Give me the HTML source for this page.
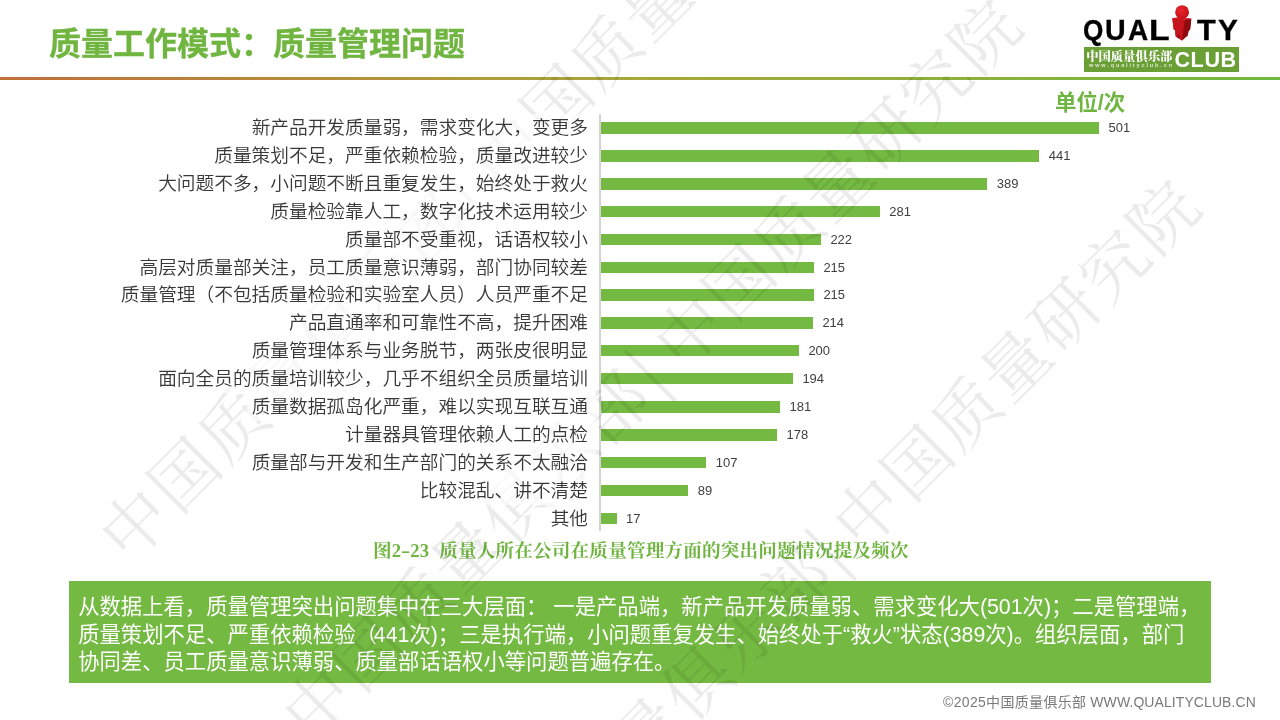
<!DOCTYPE html>
<html lang="zh-CN">
<head>
<meta charset="utf-8">
<title>质量工作模式：质量管理问题</title>
<style>
html,body{margin:0;padding:0;background:#fff;}
body{width:1280px;height:720px;position:relative;overflow:hidden;font-family:"Liberation Sans","Noto Sans CJK SC",sans-serif;}
.abs{position:absolute;}
#title{position:absolute;left:49px;top:20.4px;font-size:32px;line-height:48px;font-weight:700;color:#6fb540;white-space:nowrap;letter-spacing:0;-webkit-text-stroke:0.3px #6fb540;}
#rule{position:absolute;left:0;top:77px;width:1280px;height:3px;background:linear-gradient(to right,#c16e3a 0%,#b48e3b 25%,#a7a83d 50%,#9daa3c 60%,#84b43c 83%,#6fb83f 100%);}
#logo .q{position:absolute;top:12px;font-family:"Liberation Sans",sans-serif;font-weight:700;font-size:30.4px;line-height:36px;color:#000;-webkit-text-stroke:0.35px #000;transform-origin:0 0;transform:scaleX(0.8);}
#lgbox{position:absolute;left:1084px;top:47px;width:155px;height:25px;background:#6a9f35;overflow:hidden;}
#lgcn{position:absolute;left:2.2px;top:1.6px;font-family:"Liberation Serif","Noto Serif CJK SC",serif;font-weight:900;font-size:12.3px;line-height:17px;color:#fff;white-space:nowrap;}
#lgurl{position:absolute;left:4.6px;top:14.2px;font-family:"Liberation Sans",sans-serif;font-weight:700;font-size:11px;line-height:14px;letter-spacing:3.75px;color:#dfeacf;white-space:nowrap;transform-origin:0 0;transform:scale(0.5);}
#lgclub{position:absolute;left:90.4px;top:1.2px;font-family:"Liberation Sans",sans-serif;font-weight:700;font-size:21.6px;line-height:24px;color:#fff;white-space:nowrap;letter-spacing:0.6px;}
#unit{position:absolute;left:1055px;top:88.3px;font-size:21.4px;line-height:30px;font-weight:700;color:#6fb540;white-space:nowrap;}
#axis{position:absolute;left:599px;top:114px;width:2px;height:417px;background:#d4d4d4;}
.lab{position:absolute;right:684px;padding:0 8px 0 5px;z-index:3;background:rgba(255,255,255,0.62);height:28px;line-height:28px;font-size:18.7px;font-weight:350;color:#383838;white-space:nowrap;text-align:right;}
.bar{position:absolute;left:601px;height:12px;background:#74ba42;}
.val{position:absolute;height:16px;line-height:16px;font-size:13px;color:#404040;font-family:"Liberation Sans",sans-serif;}
.hy{display:inline-block;width:9.33px;text-align:center;transform:scaleX(1.5);}
.sp{display:inline-block;width:10.2px;}
.cj{letter-spacing:0.12px;}
#cap{position:absolute;left:373px;top:537px;font-size:18.67px;line-height:28px;font-weight:700;color:#6fb540;white-space:nowrap;font-family:"Liberation Serif","Noto Serif CJK SC",serif;}
#box{position:absolute;left:69px;top:581px;width:1142px;height:102px;background:#74ba42;}
#box p{margin:0;position:absolute;left:9.2px;top:13px;font-size:21.33px;line-height:27.5px;color:#fff;white-space:nowrap;font-weight:400;}
#foot{position:absolute;left:943px;top:692px;font-size:14px;line-height:20px;color:#7a7a7a;white-space:nowrap;}
#wm{position:absolute;left:0;top:0;width:1280px;height:720px;overflow:hidden;pointer-events:none;z-index:2;}
.wl{position:absolute;width:0;height:0;transform:rotate(-45deg);}
.wl span.t{position:absolute;left:-33.5px;top:-40px;white-space:nowrap;font-family:"Liberation Serif","Noto Serif CJK SC",serif;font-weight:400;font-size:67px;line-height:80px;height:80px;letter-spacing:2.6px;color:rgba(0,0,0,0.08);}
.wl span.s{letter-spacing:0;font-size:78px;line-height:80px;display:inline-block;width:33px;text-align:left;vertical-align:top;position:relative;top:-5px;left:2.3px;}
</style>
</head>
<body>
<div id="title">质量工作模式：质量管理问题</div>
<div id="rule"></div>
<div id="logo">
<span class="q" style="left:1083.4px;transform:scale(0.86,0.98)">Q</span><span class="q" style="left:1104.8px;transform:scale(0.94,0.98)">U</span><span class="q" style="left:1128.2px;transform:scale(0.92,0.98)">A</span><span class="q" style="left:1149.2px;transform:scale(1.11,0.98)">L</span><span class="q" style="left:1196.8px;transform:scale(1.01,0.98)">T</span><span class="q" style="left:1218.2px;transform:scale(0.98,0.98)">Y</span>
<svg class="man" width="30" height="46" viewBox="0 0 30 46" style="position:absolute;left:1167px;top:0">
<defs><radialGradient id="hg" cx="0.4" cy="0.35" r="0.7"><stop offset="0" stop-color="#ea242c"/><stop offset="1" stop-color="#bf1018"/></radialGradient></defs>
<polygon points="5.3,18.3 12,17.3 24.3,18.7 23.1,29.6 21.4,31.2 20.8,35.3 15,40.6 8.7,36.4 8.1,30 6.7,29.4" fill="#a80e15"/>
<polygon points="5.3,18.3 18,20 15,40.6 8.7,36.4 8.1,30 6.7,29.4" fill="#c5141b"/>
<polygon points="18,20 24.3,18.7 23.1,29.6 21.4,31.2 20.8,35.3 15,40.6" fill="#8f0a10"/>
<polygon points="5.3,18.3 12,17.3 24.3,18.7 18,20" fill="#e2222a"/>
<polygon points="10.9,35.2 12.4,34.6 12.7,37.4 11.2,37.9" fill="#8f0a10"/>
<circle cx="15.1" cy="12.2" r="6.9" fill="url(#hg)"/>
</svg>
<div id="lgbox">
<div id="lgcn">中国质量俱乐部</div>
<div id="lgurl">www.qualityclub.cn</div>
<div id="lgclub">CLUB</div>
</div>
</div>
<div id="unit">单位/次</div>
<div id="axis"></div>
<div class="lab" style="top:114.00px">新产品开发质量弱，需求变化大，变更多</div>
<div class="bar" style="top:122px;height:12px;width:498.1px"></div>
<div class="val" style="top:120.00px;left:1108.5px">501</div>
<div class="lab" style="top:142.00px">质量策划不足，严重依赖检验，质量改进较少</div>
<div class="bar" style="top:150px;height:12px;width:438.3px"></div>
<div class="val" style="top:148.00px;left:1048.7px">441</div>
<div class="lab" style="top:170.00px">大问题不多，小问题不断且重复发生，始终处于救火</div>
<div class="bar" style="top:178px;height:12px;width:386.4px"></div>
<div class="val" style="top:176.00px;left:996.8px">389</div>
<div class="lab" style="top:197.50px">质量检验靠人工，数字化技术运用较少</div>
<div class="bar" style="top:206px;height:11px;width:278.8px"></div>
<div class="val" style="top:203.50px;left:889.2px">281</div>
<div class="lab" style="top:225.50px">质量部不受重视，话语权较小</div>
<div class="bar" style="top:234px;height:11px;width:220.0px"></div>
<div class="val" style="top:231.50px;left:830.4px">222</div>
<div class="lab" style="top:253.50px">高层对质量部关注，员工质量意识薄弱，部门协同较差</div>
<div class="bar" style="top:262px;height:11px;width:213.0px"></div>
<div class="val" style="top:259.50px;left:823.4px">215</div>
<div class="lab" style="top:281.00px">质量管理（不包括质量检验和实验室人员）人员严重不足</div>
<div class="bar" style="top:289px;height:12px;width:213.0px"></div>
<div class="val" style="top:287.00px;left:823.4px">215</div>
<div class="lab" style="top:309.00px">产品直通率和可靠性不高，提升困难</div>
<div class="bar" style="top:317px;height:12px;width:212.0px"></div>
<div class="val" style="top:315.00px;left:822.4px">214</div>
<div class="lab" style="top:336.50px">质量管理体系与业务脱节，两张皮很明显</div>
<div class="bar" style="top:345px;height:11px;width:198.0px"></div>
<div class="val" style="top:342.50px;left:808.4px">200</div>
<div class="lab" style="top:364.50px">面向全员的质量培训较少，几乎不组织全员质量培训</div>
<div class="bar" style="top:373px;height:11px;width:192.0px"></div>
<div class="val" style="top:370.50px;left:802.4px">194</div>
<div class="lab" style="top:393.00px">质量数据孤岛化严重，难以实现互联互通</div>
<div class="bar" style="top:401px;height:12px;width:179.1px"></div>
<div class="val" style="top:399.00px;left:789.5px">181</div>
<div class="lab" style="top:421.00px">计量器具管理依赖人工的点检</div>
<div class="bar" style="top:429px;height:12px;width:176.1px"></div>
<div class="val" style="top:427.00px;left:786.5px">178</div>
<div class="lab" style="top:448.50px">质量部与开发和生产部门的关系不太融洽</div>
<div class="bar" style="top:457px;height:11px;width:105.3px"></div>
<div class="val" style="top:454.50px;left:715.7px">107</div>
<div class="lab" style="top:476.50px">比较混乱、讲不清楚</div>
<div class="bar" style="top:485px;height:11px;width:87.4px"></div>
<div class="val" style="top:482.50px;left:697.8px">89</div>
<div class="lab" style="top:504.50px">其他</div>
<div class="bar" style="top:513px;height:11px;width:15.6px"></div>
<div class="val" style="top:510.50px;left:626.0px">17</div>
<div id="cap">图2<span class="hy">-</span>23<span class="sp"> </span><span class="cj">质量人所在公司在质量管理方面的突出问题情况提及频次</span></div>
<div id="box"><p>从数据上看，质量管理突出问题集中在三大层面： 一是产品端，新产品开发质量弱、需求变化大(501次)；二是管理端，<br>质量策划不足、严重依赖检验<span style="margin-right:-3px">（</span>441次)；三是执行端，小问题重复发生、始终处于“救火”状态(389次)。组织层面，部门<br>协同差、员工质量意识薄弱、质量部话语权小等问题普遍存在。</p></div>
<div id="foot"><span style="letter-spacing:0.33px">©2025中国质量俱乐部</span> <span style="letter-spacing:0.08px">WWW.QUALITYCLUB.CN</span></div>
<div id="wm">
<div class="wl" style="left:136px;top:524.5px"><span class="t">中国质量俱乐部<span class="s" style="width:40px;left:5px">|</span>中国质量研究院</span></div>
<div class="wl" style="left:318.5px;top:703.5px"><span class="t">中国质量俱乐部<span class="s" style="width:38px;left:4.8px">|</span>中国质量研究院</span></div>
<div class="wl" style="left:500.5px;top:881px"><span class="t">中国质量俱乐部<span class="s">|</span>中国质量研究院</span></div>
</div>
</body>
</html>
